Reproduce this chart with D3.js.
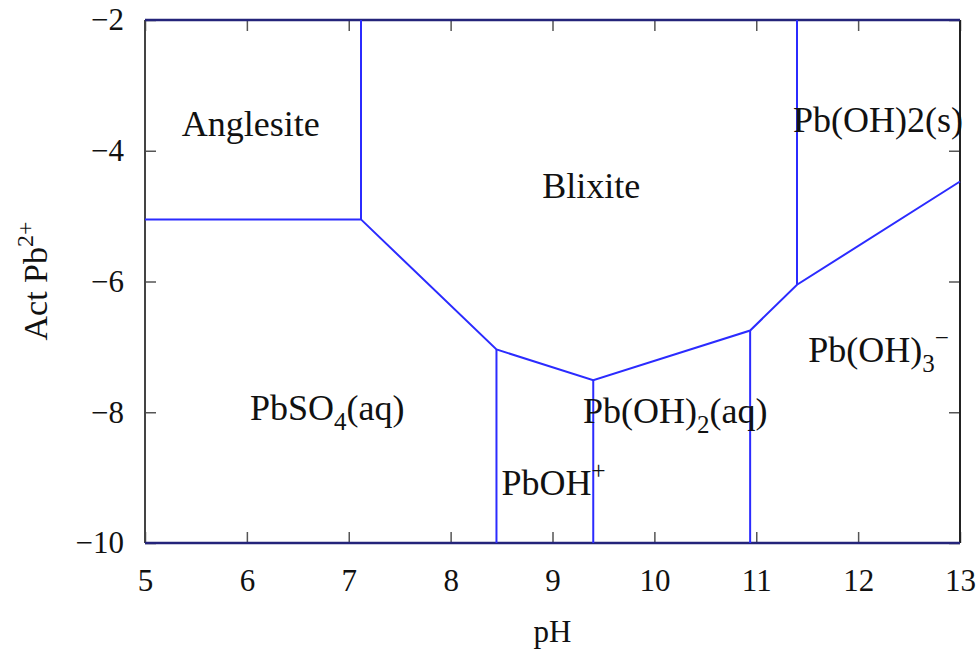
<!DOCTYPE html>
<html>
<head>
<meta charset="utf-8">
<script src="https://cdn.jsdelivr.net/npm/d3@7"></script>
<style>
  body { margin: 0; background: #fff; }
  text { font-family: "Liberation Serif", "DejaVu Serif", serif; fill: #111; }
</style>
</head>
<body>
<div id="chart"></div>
<script>
width = 980;
height = 652;

// axis ticks
var pHTicks = [5, 6, 7, 8, 9, 10, 11, 12, 13];
var actTicks = [-2, -4, -6, -8, -10];

// main boundary polyline (pH, log activity Pb2+)
var boundary = [[5, -5.05], [7.12, -5.05], [8.45, -7.04], [9.40, -7.51],
                [10.94, -6.75], [11.40, -6.05], [13, -4.47]];

// vertical boundaries: pH, from, to
var verticals = [[7.12, -2, -5.05], [8.45, -7.04, -10], [9.40, -7.51, -10],
                 [10.94, -6.75, -10], [11.40, -6.05, -2]];

// field labels: [main, sub, rest, sup], anchor at (pH, act)
var fieldText = [
  ["Anglesite", "", "", ""],
  ["Blixite", "", "", ""],
  ["Pb(OH)2(s)", "", "", ""],
  ["Pb(OH)", "3", "", "\u2212"],
  ["PbSO", "4", "(aq)", ""],
  ["Pb(OH)", "2", "(aq)", ""],
  ["PbOH", "", "", "+"]
];
var fieldPH  = [5.36, 8.9, 11.36, 11.51, 6.03, 9.3, 8.5];
var fieldAct = [-3.77, -4.72, -3.71, -7.23, -8.12, -8.16, -9.27];

const svg = d3.select("#chart")
              .append("svg")
              .attr("width", width)
              .attr("height", height);

var x = d3.scaleLinear().domain([5, 13]).range([145, 960]);
var y = d3.scaleLinear().domain([-10, -2]).range([543, 20]);

var line = d3.line().x(function(d) { return x(d[0]); }).y(function(d) { return y(d[1]); });

// axes with inward ticks
svg.append("g")
    .attr("transform", "translate(0," + y(-10) + ")")
    .call(d3.axisBottom(x).tickValues(pHTicks).tickSize(-11).tickPadding(26));
svg.append("g")
    .attr("transform", "translate(" + x(5) + ",0)")
    .call(d3.axisLeft(y).tickValues(actTicks).tickSize(-11).tickPadding(21));
svg.append("g")
    .attr("transform", "translate(0," + y(-2) + ")")
    .call(d3.axisTop(x).tickValues(pHTicks).tickSize(-11).tickFormat(""));
svg.append("g")
    .attr("transform", "translate(" + x(13) + ",0)")
    .call(d3.axisRight(y).tickValues(actTicks).tickSize(-11).tickFormat(""));

svg.selectAll(".domain").remove();
svg.selectAll(".tick line").attr("stroke", "#555").attr("stroke-width", 1.5);
svg.selectAll(".tick text").style("font-size", "31px").attr("fill", "#111")
   .style("font-family", "'Liberation Serif', serif");

// frame
svg.append("line").attr("x1", x(5)).attr("x2", x(5)).attr("y1", y(-2)).attr("y2", y(-10))
   .attr("stroke", "#444").attr("stroke-width", 2);
svg.append("line").attr("x1", x(13)).attr("x2", x(13)).attr("y1", y(-2)).attr("y2", y(-10))
   .attr("stroke", "#222").attr("stroke-width", 2);
svg.append("line").attr("x1", x(5)).attr("x2", x(13)).attr("y1", y(-2)).attr("y2", y(-2))
   .attr("stroke", "#24247a").attr("stroke-width", 2.5);
svg.append("line").attr("x1", x(5)).attr("x2", x(13)).attr("y1", y(-10)).attr("y2", y(-10))
   .attr("stroke", "#24247a").attr("stroke-width", 2.5);

// boundaries
svg.append("path")
    .attr("d", line(boundary))
    .attr("fill", "none")
    .attr("stroke", "#2b2bff")
    .attr("stroke-width", 2);

svg.selectAll(".vline")
    .data(verticals)
    .enter().append("line")
      .attr("class", "vline")
      .attr("x1", function(d) { return x(d[0]); })
      .attr("x2", function(d) { return x(d[0]); })
      .attr("y1", function(d) { return y(d[1]); })
      .attr("y2", function(d) { return y(d[2]); })
      .attr("stroke", "#2b2bff")
      .attr("stroke-width", 2);

// field labels
fieldText.forEach(function(t, i) {
  var txt = svg.append("text")
      .attr("x", x(fieldPH[i]))
      .attr("y", y(fieldAct[i]))
      .style("font-size", "36px");
  txt.append("tspan").text(t[0]);
  if (t[1]) txt.append("tspan").attr("dy", 10).style("font-size", "25px").text(t[1]);
  if (t[2]) txt.append("tspan").attr("dy", -10).text(t[2]);
  if (t[3]) txt.append("tspan").attr("dy", t[1] ? -26 : -16).style("font-size", "25px").text(t[3]);
});

// axis titles
svg.append("text")
    .attr("x", x(9))
    .attr("y", 642)
    .attr("text-anchor", "middle")
    .style("font-size", "31px")
    .text("pH");

var yl = svg.append("text")
    .attr("transform", "translate(47,281) rotate(-90)")
    .attr("text-anchor", "middle")
    .style("font-size", "34px");
yl.append("tspan").text("Act Pb");
yl.append("tspan").attr("dy", -14).style("font-size", "24px").text("2+");
</script>
</body>
</html>
